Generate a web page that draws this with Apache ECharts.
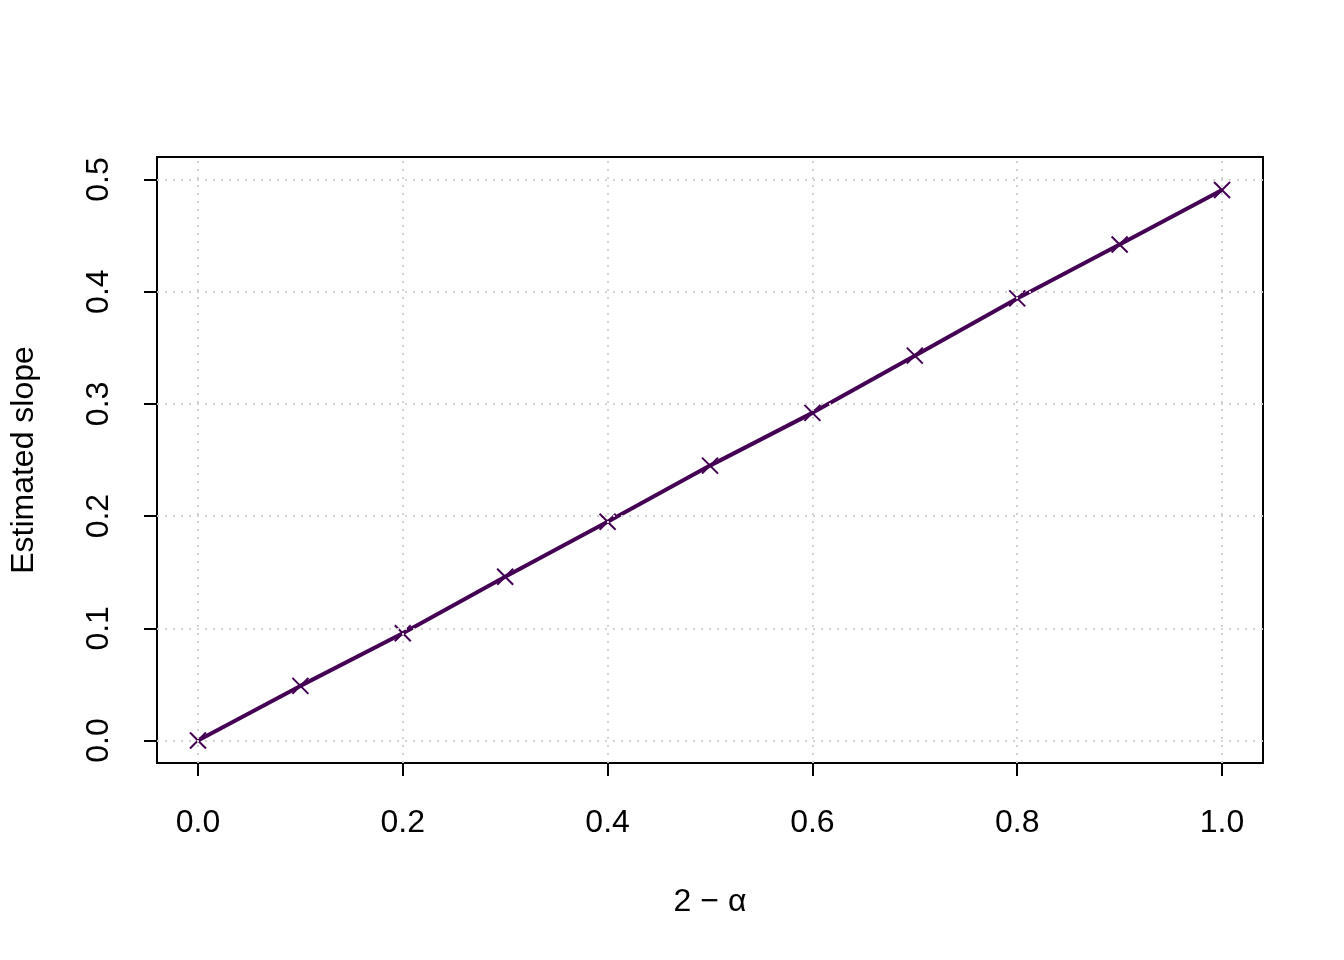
<!DOCTYPE html>
<html>
<head>
<meta charset="utf-8">
<script src="https://cdn.jsdelivr.net/npm/echarts@6/dist/echarts.min.js"></script>
<style>html,body{margin:0;padding:0;background:#fff;}#c{width:1344px;height:960px;}</style>
</head>
<body>
<div id="c"></div>
<script>
const xValues = [0, 0.1, 0.2, 0.3, 0.4, 0.5, 0.6, 0.7, 0.8, 0.9, 1.0];
const slopeValues = [0, 0.0487, 0.0956, 0.146, 0.195, 0.245, 0.292, 0.343, 0.394, 0.442, 0.4906];
const xTicks = [0, 0.2, 0.4, 0.6, 0.8, 1.0];
const yTicks = [0, 0.1, 0.2, 0.3, 0.4, 0.5];
const xTitle = '2 \u2212 \u03b1';
const yTitle = 'Estimated slope';

const FONT = '"Liberation Sans", Arial, sans-serif';
const lineColor = '#440154';
const gridColor = '#d3d3d3';

const chart = echarts.init(document.getElementById('c'), null, {renderer: 'canvas'});
const gridLines = xTicks.map(v => ({xAxis: v})).concat(yTicks.map(v => ({yAxis: v})));

chart.setOption({
  animation: false,
  backgroundColor: '#ffffff',
  grid: {left: 157, top: 157, right: 81, bottom: 197, outerBoundsMode: 'none', containLabel: false,
         show: true, borderColor: '#000', borderWidth: 2, backgroundColor: 'transparent'},
  xAxis: {
    type: 'value', min: -0.04, max: 1.04,
    name: xTitle, nameLocation: 'middle', nameGap: 123,
    nameTextStyle: {fontFamily: FONT, fontSize: 32, color: '#000'},
    axisLine: {show: false, onZero: false},
    axisTick: {show: true, customValues: xTicks, length: 13, lineStyle: {color: '#000', width: 2}},
    axisLabel: {customValues: xTicks, margin: 44, fontFamily: FONT, fontSize: 32, color: '#000', formatter: v => v.toFixed(1)},
    splitLine: {show: false}
  },
  yAxis: {
    type: 'value', min: -0.02, max: 0.52,
    name: yTitle, nameLocation: 'middle', nameGap: 117, nameRotate: 90,
    nameTextStyle: {fontFamily: FONT, fontSize: 32, color: '#000'},
    axisLine: {show: false, onZero: false},
    axisTick: {show: true, customValues: yTicks, length: 13, lineStyle: {color: '#000', width: 2}},
    axisLabel: {customValues: yTicks, rotate: 90, margin: 42, fontFamily: FONT, fontSize: 32, color: '#000', formatter: v => v.toFixed(1)},
    splitLine: {show: false}
  },
  series: [
    {
      type: 'line', data: [], z: 1, silent: true,
      markLine: {
        silent: true, symbol: ['none', 'none'], label: {show: false},
        lineStyle: {color: gridColor, width: 2, type: [2, 6]},
        emphasis: {disabled: true},
        data: gridLines
      }
    },
    {
      type: 'line', z: 3,
      data: xValues.map((x, i) => [x, slopeValues[i]]),
      lineStyle: {color: lineColor, width: 4},
      symbol: 'path://M0,0L10,10M10,0L0,10',
      symbolSize: 16,
      showSymbol: true,
      itemStyle: {color: 'transparent', borderColor: lineColor, borderWidth: 2},
      emphasis: {disabled: true}
    }
  ]
});
</script>
</body>
</html>
